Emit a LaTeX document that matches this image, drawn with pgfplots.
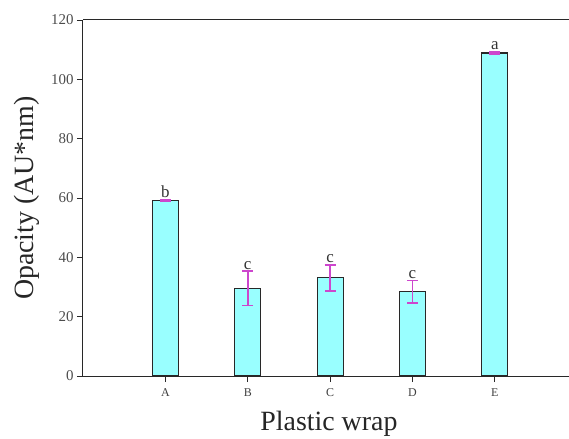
\documentclass[border=0pt]{standalone}
\usepackage{pgfplots}
\pgfplotsset{compat=1.18}
\usepackage{fontspec}
\setmainfont{Liberation Serif}
\definecolor{barfill}{RGB}{153,255,255}
\definecolor{errc}{RGB}{205,70,205}
\definecolor{edge}{RGB}{40,40,40}
\pgfplotstableread{
x y e
1 59.1 0.3
2 29.6 5.8
3 33.1 4.4
4 28.4 3.75
5 108.9 0.4
}\datatable
\begin{document}
\begin{tikzpicture}
\begin{axis}[
  name=ax, at={(0,0)}, anchor=south west,
  scale only axis, width=486bp, height=356bp,
  xmin=0, xmax=5.9, ymin=0, ymax=120,
  axis x line*=box, axis y line*=left,
  axis line style={edge, line width=1bp},
  xtick={1,2,3,4,5}, xticklabels={A,B,C,D,E},
  ytick={0,20,40,60,80,100,120},
  xtick pos=lower, ytick pos=left,
  tick align=outside, major tick length=6bp,
  tick style={edge, line width=0.8bp},
  /pgf/number format/assume math mode=true,
  xticklabel style={font=\fontsize{12}{12}\selectfont, color=black!75, yshift=-3bp},
  yticklabel style={font=\fontsize{15}{15}\selectfont, color=black!70},
  xlabel={Plastic wrap},
  ylabel={Opacity (AU*nm)},
  xlabel style={at={(axis description cs:0.506,-0.1517)}, anchor=base, font=\fontsize{28}{28}\selectfont, color=black!85},
  ylabel style={at={(axis description cs:-0.1152,0.5)}, anchor=center, font=\fontsize{28}{28}\selectfont, color=black!85},
  clip=false,
]
\addplot[ybar, bar width=26bp, fill=barfill, draw=edge, line width=1.2bp]
  table[x=x, y=y] {\datatable};
\addplot[draw=none, mark=none, forget plot,
  error bars/.cd, y dir=both, y explicit,
  error bar style={solid, draw=errc, line width=1.6bp},
  error mark options={solid, draw=errc, rotate=90, mark size=5.5bp, line width=1.6bp}]
  table[x=x, y=y, y error=e] {\datatable};
\addplot[draw=none, nodes near coords, point meta=explicit symbolic,
  nodes near coords style={anchor=south, inner sep=1.5bp, font=\fontsize{17}{17}\selectfont, color=black!80}]
  table[x=x, y=t, meta=lab] {
x t lab
1 59.4 b
2 35.4 c
3 37.5 c
4 32.15 c
5 109.3 a
};
\end{axis}
\pgfresetboundingbox
\path[use as bounding box] ([xshift=-83bp,yshift=-63bp]ax.south west) rectangle ([yshift=20bp]ax.north east);
\end{tikzpicture}
\end{document}
